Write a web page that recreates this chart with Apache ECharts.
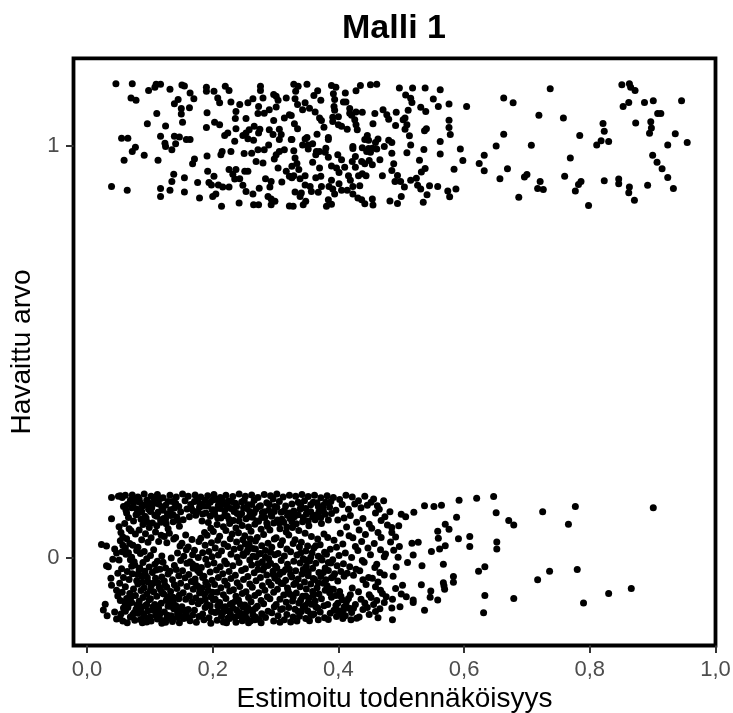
<!DOCTYPE html>
<html><head><meta charset="utf-8">
<style>html,body{margin:0;padding:0;background:#fff}#c{width:733px;height:713px}</style>
<script src="https://cdn.jsdelivr.net/npm/echarts@6/dist/echarts.min.js"></script></head>
<body><div id="c"></div>
<script>
const xTicks=[0,0.2,0.4,0.6,0.8,1];
const yTicks=[0,1];
const observedOne=[
[.046,1.150],[.072,1.150],[.098,1.134],[.108,1.142],[.110,1.149],[.117,1.149],[.132,1.137],[.151,1.147],[.155,1.145],[.164,1.128],[.170,1.114],[.190,1.142],[.190,1.132],[.202,1.132],[.220,1.144],[.226,1.134],[.276,1.144],[.276,1.134],[.297,1.124],
[.070,1.116],[.078,1.110],[.139,1.102],[.145,1.112],[.150,1.090],[.163,1.092],[.150,1.077],[.111,1.078],[.096,1.053],[.125,1.048],[.152,1.057],[.191,1.080],[.190,1.044],[.203,1.057],[.211,1.051],[.208,1.116],[.211,1.104],[.229,1.106],[.243,1.100],[.237,1.083],[.236,1.066],[.253,1.066],[.256,1.104],[.264,1.114],[.280,1.116],[.301,1.120],[.304,1.110],[.317,1.116],[.273,1.095],[.272,1.078],[.282,1.079],[.290,1.087],[.301,1.094],[.314,1.067],[.322,1.075],[.297,1.061],[.055,1.018],[.065,1.018],[.117,1.023],[.139,1.023],[.147,1.021],[.158,1.015],[.164,1.015],[.124,1.006],[.125,.998],[.141,1.005],[.135,.990],[.077,.996],[.072,.986],[.059,.965],[.091,.977],[.113,.965],[.191,.975],[.171,.968],[.168,.956],[.237,1.041],[.224,1.031],[.219,1.025],[.248,1.025],[.253,1.031],[.235,1.011],[.258,1.039],[.266,1.047],[.275,1.040],[.290,1.039],[.306,1.040],[.296,1.027],[.309,1.027],[.306,1.015],[.256,1.017],[.265,1.013],[.273,1.031],[.229,.986],[.215,.986],[.213,.978],[.250,.981],[.262,.982],[.272,.990],[.282,.990],[.289,1.002],[.314,.990],[.306,.986],[.301,.978],[.298,.968],[.269,.962],[.280,.958],[.325,1.015],[.304,.946],[.226,.942],[.237,.942],[.251,.938],[.256,.938],[.232,.931],[.235,.919],[.243,.920],[.248,.904],[.253,.889],[.264,.883],[.274,.897],[.291,.900],[.284,.920],[.293,.913],[.310,.912],[.317,.938],[.322,.926],[.192,.938],[.202,.926],[.194,.911],[.198,.905],[.209,.905],[.216,.900],[.226,.900],[.176,.911],[.138,.931],[.155,.922],[.135,.913],[.117,.896],[.132,.892],[.155,.888],[.117,.877],[.039,.901],[.064,.892],[.179,.873],[.205,.883],[.200,.877],[.214,.853],[.242,.861],[.265,.857],[.273,.857],[.293,.857],[.299,.865],[.288,.877],[.293,.871],[.322,.854],
[.329,1.149],[.350,1.149],[.336,1.144],[.332,1.132],[.367,1.133],[.361,1.122],[.389,1.146],[.396,1.142],[.435,1.146],[.451,1.148],[.461,1.149],[.428,1.133],[.411,1.128],[.392,1.126],[.497,1.140],[.518,1.140],[.538,1.140],[.562,1.136],[.507,1.123],[.515,1.115],[.517,1.105],[.551,1.113],[.663,1.116],[.331,1.114],[.372,1.110],[.394,1.112],[.408,1.106],[.412,1.106],[.335,1.100],[.347,1.104],[.343,1.087],[.354,1.091],[.363,1.082],[.393,1.095],[.394,1.086],[.418,1.090],[.559,1.095],[.576,1.101],[.604,1.095],[.531,1.093],[.539,1.083],[.471,1.087],[.477,1.075],[.480,1.064],[.492,1.081],[.511,1.086],[.458,1.078],[.438,1.081],[.428,1.082],[.418,1.079],[.421,1.074],[.325,1.073],[.506,1.067],[.503,1.063],[.370,1.067],[.373,1.061],[.391,1.069],[.400,1.070],[.391,1.059],[.400,1.051],[.405,1.047],[.414,1.040],[.426,1.063],[.428,1.051],[.430,1.039],[.455,1.053],[.491,1.049],[.509,1.051],[.506,1.040],[.540,1.041],[.537,1.036],[.576,1.062],[.576,1.044],[.578,1.027],[.330,1.053],[.335,1.041],[.377,1.045],[.366,1.028],[.384,1.020],[.384,1.015],[.326,1.015],[.350,1.020],[.347,1.016],[.446,1.025],[.442,1.015],[.448,1.013],[.463,1.016],[.459,1.008],[.480,1.013],[.485,1.008],[.513,1.024],[.515,1.002],[.562,1.010],[.423,.998],[.423,.993],[.438,.995],[.448,.993],[.454,.994],[.445,.986],[.451,.984],[.461,.992],[.473,.998],[.343,1.002],[.352,1.002],[.359,1.005],[.352,.992],[.329,.988],[.485,.982],[.509,.983],[.536,.991],[.562,.980],[.594,.992],[.651,.999],[.632,.977],[.598,.964],[.624,.957],[.632,.939],[.584,.943],[.669,.944],[.657,.920],[.529,.965],[.488,.956],[.485,.940],[.538,.945],[.532,.936],[.494,.928],[.470,.927],[.524,.921],[.515,.916],[.490,.913],[.499,.913],[.505,.900],[.526,.904],[.531,.895],[.545,.903],[.558,.901],[.574,.890],[.587,.895],[.577,.876],[.541,.881],[.500,.877],[.482,.866],[.494,.860],[.535,.863],[.454,.871],[.455,.856],[.442,.859],
[.365,.986],[.370,.986],[.380,.994],[.379,.984],[.364,.978],[.384,.972],[.399,.978],[.405,.966],[.422,.962],[.427,.974],[.437,.962],[.449,.964],[.466,.966],[.454,.954],[.442,.956],[.427,.948],[.438,.932],[.444,.927],[.432,.927],[.410,.948],[.389,.951],[.397,.946],[.401,.935],[.370,.946],[.359,.960],[.331,.970],[.334,.957],[.326,.950],[.337,.942],[.329,.927],[.347,.927],[.339,.920],[.326,.922],[.364,.922],[.372,.926],[.389,.916],[.401,.908],[.416,.927],[.419,.916],[.385,.901],[.391,.895],[.347,.905],[.355,.901],[.357,.889],[.373,.901],[.368,.887],[.394,.883],[.405,.892],[.414,.892],[.423,.901],[.434,.903],[.423,.883],[.431,.873],[.437,.869],[.341,.885],[.331,.888],[.348,.865],[.344,.857],[.328,.853],[.384,.869],[.389,.858],[.381,.853],[.339,.877],
[.737,1.138],[.851,1.148],[.863,1.150],[.865,1.142],[.872,1.134],[.678,1.104],[.862,1.105],[.853,1.095],[.887,1.105],[.901,1.109],[.946,1.109],[.719,1.074],[.758,1.067],[.908,1.078],[.913,1.078],[.821,1.054],[.873,1.055],[.897,1.058],[.898,1.043],[.823,1.035],[.895,1.030],[.663,1.028],[.784,1.025],[.936,1.029],[.955,1.008],[.924,1.002],[.818,1.012],[.830,1.010],[.811,1.002],[.707,1.001],[.769,.970],[.900,.977],[.907,.960],[.915,.944],[.924,.923],[.700,.930],[.696,.924],[.760,.926],[.721,.913],[.786,.913],[.782,.906],[.777,.890],[.823,.915],[.846,.919],[.846,.908],[.863,.900],[.862,.886],[.892,.904],[.933,.896],[.717,.896],[.726,.894],[.687,.875],[.871,.868],[.798,.855]
];
const observedZeroSparse=[
[.472,.139],[.537,.127],[.552,.125],[.564,.128],[.592,.140],[.620,.145],[.647,.149],[.651,.110],[.725,.112],[.777,.125],[.901,.122],[.520,.111],[.588,.099],[.671,.091],[.679,.080],[.766,.082],[.570,.082],[.576,.070],[.558,.065],[.559,.048],[.591,.047],[.609,.052],[.652,.039],[.652,.022],[.609,.028],[.570,.030],[.561,.022],[.548,.016],[.527,.038],[.517,.036],[.496,.078],[.497,.028],[.483,.039],[.488,.019],[.519,.007],[.495,.002],[.567,-.015],[.533,-.019],[.510,-.011],[.492,-.022],[.623,-.032],[.633,-.021],[.736,-.032],[.780,-.028],[.717,-.053],[.583,-.045],[.583,-.059],[.567,-.060],[.568,-.067],[.569,-.076],[.532,-.065],[.502,-.066],[.491,-.074],[.473,-.041],[.487,-.044],[.547,-.080],[.546,-.095],[.558,-.102],[.519,-.102],[.519,-.108],[.500,-.087],[.508,-.094],[.486,-.100],[.485,-.121],[.498,-.118],[.537,-.127],[.633,-.091],[.679,-.098],[.631,-.133],[.790,-.109],[.830,-.086],[.866,-.074],[.486,-.150],[.500,.106],[.507,.100],[.482,.112],[.474,.100],[.478,.080],[.485,.074],[.485,.062],[.491,.051],[.473,.003],[.475,.010],[.468,.050],[.476,-.094],[.470,-.086],[.473,-.108]
];
const observedZeroDense=[
[.023,.033],[.031,.029],[.039,.095],[.039,.147],[.029,-.112],[.026,-.126],[.032,-.140],[.034,-.021],[.031,-.019],[.038,-.049],[.039,-.066],[.044,.022],[.047,.012],[.041,-.003],[.049,-.037],[.047,-.078],[.049,-.092],[.044,-.131],[.047,-.148],
[.050,.150],[.053,.151],[.056,.147],[.051,.076],[.054,.062],[.057,.051],[.053,.042],[.056,.015],[.051,-.005],[.055,-.026],[.058,-.047],[.052,-.061],[.056,-.083],[.053,-.103],[.058,-.121],[.054,-.136],[.057,-.153],[.052,-.146],
[.061,.152],[.064,.130],[.062,.116],[.066,.098],[.060,.084],[.067,.071],[.063,.047],[.068,.035],[.062,.009],[.069,-.004],[.064,-.033],[.067,-.052],[.061,-.070],[.068,-.086],[.063,-.098],[.066,-.112],[.061,-.129],[.069,-.143],[.064,-.157],
[.072,.153],[.076,.141],[.071,.122],[.078,.105],[.074,.090],[.070,.066],[.077,.058],[.073,.031],[.079,.018],[.071,.002],[.076,-.017],[.072,-.038],[.079,-.055],[.074,-.075],[.077,-.091],[.071,-.108],[.078,-.124],[.073,-.137],[.076,-.151],
[.081,.148],[.084,.135],[.088,.126],[.082,.110],[.086,.094],[.089,.081],[.083,.068],[.087,.044],[.081,.026],[.085,.011],[.089,-.011],[.083,-.029],[.087,-.044],[.081,-.063],[.086,-.079],[.089,-.096],[.083,-.105],[.087,-.119],[.081,-.134],[.085,-.149],[.088,-.157],
[.091,.155],[.095,.140],[.098,.118],[.092,.101],[.096,.087],[.099,.074],[.093,.059],[.097,.038],[.091,.016],[.095,-.002],[.099,-.022],[.093,-.041],[.097,-.058],[.091,-.072],[.095,-.088],[.099,-.101],[.093,-.116],[.097,-.128],[.091,-.142],[.095,-.155],
[.102,.150],[.106,.132],[.101,.113],[.108,.104],[.104,.085],[.109,.063],[.102,.049],[.106,.020],[.101,.006],[.108,-.015],[.104,-.035],[.109,-.049],[.102,-.067],[.106,-.082],[.101,-.099],[.108,-.113],[.104,-.126],[.109,-.139],[.102,-.153],
[.112,.154],[.116,.144],[.119,.124],[.113,.111],[.117,.092],[.111,.078],[.118,.055],[.114,.040],[.119,.005],[.112,-.008],[.116,-.027],[.119,-.046],[.113,-.060],[.117,-.077],[.111,-.093],[.118,-.110],[.114,-.122],[.116,-.135],[.112,-.148],[.119,-.158],
[.121,.146],[.125,.128],[.128,.107],[.122,.096],[.126,.083],[.129,.071],[.123,.052],[.127,.037],[.121,-.010],[.125,-.024],[.129,-.039],[.123,-.056],[.127,-.071],[.122,-.087],[.126,-.103],[.129,-.117],[.123,-.131],[.127,-.146],[.125,-.156],
[.132,.152],[.136,.137],[.139,.121],[.133,.103],[.137,.088],[.131,.060],[.138,.046],[.134,.000],[.139,-.018],[.132,-.032],[.136,-.053],[.139,-.065],[.133,-.081],[.137,-.095],[.131,-.107],[.138,-.123],[.134,-.140],[.136,-.154],
[.142,.148],[.146,.125],[.149,.112],[.143,.099],[.147,.077],[.141,.050],[.148,.029],[.144,.012],[.149,-.006],[.142,-.028],[.146,-.043],[.149,-.061],[.143,-.074],[.147,-.090],[.141,-.115],[.148,-.129],[.144,-.144],[.147,-.157],
[.152,.155],[.156,.139],[.159,.119],[.153,.093],[.157,.056],[.151,.036],[.158,.020],[.154,.004],[.159,-.013],[.152,-.031],[.156,-.048],[.159,-.069],[.153,-.084],[.157,-.100],[.151,-.118],[.158,-.133],[.154,-.147],
[.161,.150],[.165,.130],[.169,.114],[.163,.100],[.167,.045],[.161,.027],[.168,.008],[.164,-.009],[.169,-.025],[.162,-.040],[.166,-.057],[.169,-.076],[.163,-.092],[.167,-.106],[.161,-.125],[.168,-.138],[.164,-.152],
[.172,.153],[.176,.141],[.179,.123],[.173,.104],[.178,.040],[.171,.019],[.177,.001],[.174,-.020],[.179,-.036],[.172,-.051],[.176,-.068],[.179,-.085],[.173,-.097],[.177,-.111],[.171,-.127],[.178,-.142],[.174,-.156],
[.181,.148],[.185,.126],[.189,.109],[.183,.090],[.187,.062],[.181,.048],[.188,.031],[.184,.013],[.189,-.003],[.182,-.023],[.186,-.044],[.189,-.059],[.183,-.073],[.187,-.088],[.181,-.104],[.188,-.120],[.184,-.136],[.186,-.150],
[.192,.151],[.196,.135],[.199,.117],[.193,.086],[.197,.072],[.191,.055],[.198,.037],[.194,.016],[.199,.003],[.192,-.016],[.196,-.034],[.199,-.054],[.193,-.079],[.197,-.094],[.191,-.113],[.198,-.130],[.194,-.145],[.197,-.158],
[.202,.154],[.206,.142],[.209,.128],[.203,.106],[.207,.081],[.201,.064],[.208,.043],[.204,.024],[.209,.007],[.202,-.012],[.206,-.029],[.209,-.047],[.203,-.064],[.207,-.083],[.201,-.101],[.208,-.116],[.204,-.132],[.207,-.151],
[.212,.147],[.216,.131],[.219,.115],[.213,.097],[.217,.076],[.211,.053],[.218,.034],[.214,.017],[.219,-.007],[.212,-.021],[.216,-.038],[.219,-.056],[.213,-.072],[.217,-.089],[.211,-.108],[.218,-.124],[.214,-.141],[.217,-.155],
[.221,.152],[.225,.138],[.229,.120],[.223,.102],[.227,.084],[.221,.067],[.228,.047],[.224,.028],[.229,.009],[.222,-.014],[.226,-.033],[.229,-.050],[.223,-.066],[.227,-.080],[.221,-.098],[.228,-.112],[.224,-.128],[.227,-.147],[.222,-.157],
[.232,.149],[.236,.133],[.239,.108],[.233,.091],[.237,.073],[.231,.058],[.238,.039],[.234,.021],[.239,.002],[.232,-.019],[.236,-.042],[.239,-.060],[.233,-.077],[.237,-.093],[.231,-.110],[.238,-.126],[.234,-.143],[.237,-.156],
[.242,.155],[.246,.136],[.249,.122],[.243,.103],[.247,.079],[.241,.061],[.248,.044],[.244,.025],[.249,.006],[.242,-.011],[.246,-.030],[.249,-.052],[.243,-.069],[.247,-.086],[.241,-.102],[.248,-.119],[.244,-.134],[.247,-.152],
[.252,.150],[.256,.129],[.259,.113],[.253,.095],[.257,.075],[.251,.054],[.258,.033],[.254,.014],[.259,-.005],[.252,-.026],[.256,-.045],[.259,-.063],[.253,-.082],[.257,-.096],[.251,-.114],[.258,-.127],[.254,-.146],[.257,-.157],
[.262,.153],[.266,.140],[.269,.119],[.263,.099],[.267,.082],[.261,.065],[.268,.041],[.264,.023],[.269,.003],[.262,-.017],[.266,-.036],[.269,-.055],[.263,-.071],[.267,-.091],[.261,-.106],[.268,-.122],[.264,-.138],[.267,-.150],
[.272,.147],[.276,.127],[.279,.110],[.273,.089],[.277,.070],[.271,.050],[.278,.030],[.274,.010],[.279,-.009],[.272,-.028],[.276,-.047],[.279,-.067],[.273,-.084],[.277,-.103],[.271,-.117],[.278,-.135],[.274,-.149],[.277,-.157],
[.282,.154],[.286,.134],[.289,.116],[.283,.098],[.287,.077],[.281,.057],[.288,.036],[.284,.018],[.289,-.002],[.282,-.022],[.286,-.041],[.289,-.058],[.283,-.078],[.287,-.094],[.281,-.111],[.288,-.129],[.284,-.144],
[.292,.151],[.296,.143],[.299,.125],[.293,.105],[.297,.085],[.291,.068],[.298,.046],[.294,.026],[.299,.008],[.292,-.013],[.296,-.032],[.299,-.049],[.293,-.066],[.297,-.083],[.291,-.099],[.298,-.118],[.294,-.133],[.297,-.153],
[.302,.155],[.306,.137],[.309,.111],[.303,.092],[.307,.071],[.301,.049],[.308,.032],[.304,.011],[.309,-.006],[.302,-.024],[.306,-.040],[.309,-.062],[.303,-.076],[.307,-.100],[.301,-.113],[.308,-.125],[.304,-.140],[.307,-.156],
[.312,.148],[.316,.126],[.319,.104],[.313,.087],[.317,.063],[.311,.042],[.318,.022],[.314,.005],[.319,-.015],[.312,-.034],[.316,-.054],[.319,-.073],[.313,-.090],[.317,-.107],[.311,-.123],[.318,-.137],[.314,-.150],
[.322,.152],[.326,.131],[.329,.114],[.323,.096],[.327,.074],[.321,.056],[.328,.035],[.324,.015],[.329,-.008],[.322,-.027],[.326,-.046],[.329,-.064],[.323,-.088],[.327,-.104],[.321,-.120],[.328,-.143],[.324,-.155],
[.332,.150],[.336,.135],[.339,.118],[.333,.083],[.337,.067],[.331,.044],[.338,.027],[.334,.007],[.339,-.012],[.332,-.031],[.336,-.051],[.339,-.070],[.333,-.085],[.337,-.109],[.331,-.124],[.338,-.141],[.334,-.153],
[.342,.154],[.346,.139],[.349,.107],[.343,.088],[.347,.060],[.341,.038],[.348,.017],[.344,-.002],[.349,-.020],[.342,-.039],[.346,-.058],[.349,-.075],[.343,-.093],[.347,-.115],[.341,-.130],[.348,-.147],
[.352,.149],[.356,.129],[.359,.100],[.353,.078],[.357,.052],[.351,.029],[.358,.012],[.354,-.007],[.359,-.025],[.352,-.043],[.356,-.063],[.359,-.081],[.353,-.097],[.357,-.112],[.351,-.128],[.358,-.139],[.354,-.152],
[.362,.152],[.366,.134],[.369,.112],[.363,.093],[.367,.046],[.361,.024],[.368,.004],[.364,-.013],[.369,-.035],[.362,-.052],[.366,-.072],[.369,-.087],[.363,-.104],[.367,-.121],[.361,-.136],[.368,-.150],
[.372,.146],[.376,.128],[.379,.106],[.373,.084],[.377,.058],[.371,.032],[.378,.014],[.374,-.005],[.379,-.024],[.372,-.045],[.376,-.061],[.379,-.078],[.373,-.099],[.377,-.116],[.371,-.131],[.378,-.145],
[.382,.151],[.386,.123],[.389,.108],[.383,.050],[.387,.021],[.381,.009],[.388,-.012],[.384,-.030],[.389,-.048],[.382,-.067],[.386,-.084],[.389,-.095],[.383,-.113],[.387,-.134],[.384,-.149],
[.392,.147],[.396,.116],[.399,.092],[.393,.043],[.397,.026],[.391,-.004],[.398,-.019],[.394,-.038],[.399,-.056],[.392,-.076],[.396,-.091],[.399,-.110],[.393,-.127],[.397,-.142],
[.402,.142],[.406,.130],[.409,.097],[.403,.060],[.407,.034],[.401,.006],[.408,-.014],[.404,-.033],[.409,-.044],[.402,-.081],[.406,-.101],[.409,-.119],[.403,-.136],[.407,-.147],
[.412,.152],[.416,.118],[.419,.103],[.413,.075],[.417,.054],[.411,.012],[.418,-.021],[.414,-.037],[.413,-.105],[.417,-.122],[.411,-.140],[.419,-.089],
[.422,.148],[.426,.131],[.429,.087],[.423,.049],[.427,.028],[.421,.001],[.428,-.027],[.424,-.042],[.422,-.073],[.427,-.113],[.421,-.132],[.429,-.146],
[.432,.139],[.436,.122],[.439,.096],[.433,.068],[.437,.040],[.431,.018],[.438,-.006],[.434,-.031],[.439,-.053],[.432,-.082],[.436,-.100],[.439,-.125],[.433,-.143],
[.442,.150],[.446,.128],[.449,.082],[.443,.057],[.447,.024],[.441,-.010],[.448,-.047],[.444,-.064],[.449,-.089],[.442,-.109],[.446,-.120],[.449,-.137],
[.452,.135],[.456,.143],[.459,.109],[.453,.072],[.457,.035],[.451,.008],[.458,-.023],[.454,-.049],[.459,-.070],[.452,-.096],[.456,-.113],[.459,-.130],
[.462,.127],[.465,.118],[.468,.091],[.463,.062],[.467,.020],[.461,-.015],[.466,-.035],[.463,-.058],[.467,-.078],[.461,-.103],[.466,-.123],[.463,-.145]
];
const observedZeroClumps=[
[.058,.125],[.063,.109],[.069,.140],[.074,.133],[.079,.119],[.083,.143],[.087,.113],[.091,.128],[.094,.097],[.099,.133],[.103,.122],[.107,.143],[.111,.101],[.114,.131],[.118,.087],[.121,.116],[.125,.094],[.129,.137],[.133,.117],[.137,.105],[.141,.133],[.145,.091],[.057,.031],[.061,.024],[.066,.013],[.071,-.020],[.075,-.009],[.080,-.040],[.084,-.024],[.088,-.059],[.092,-.032],[.096,-.048],[.101,-.078],[.105,-.061],[.110,-.029],[.115,-.071],[.120,-.085],[.124,-.066],[.128,-.094],[.133,-.117],[.137,-.105],[.142,-.125],[.146,-.099],[.060,-.107],[.065,-.120],[.070,-.095],[.075,-.133],[.080,-.114],[.085,-.127],[.090,-.135],[.095,-.113],[.100,-.143],[.105,-.118],[.110,-.130],[.115,-.145],[.120,-.152],[.128,-.139],[.136,-.148],[.144,-.136],[.150,-.142],[.155,-.127],[.160,-.145],
[.166,.120],[.171,.137],[.176,.113],[.180,.131],[.184,.107],[.188,.140],[.192,.126],[.196,.101],[.200,.141],[.204,.117],[.208,.097],[.212,.120],[.215,.140],[.219,.103],[.223,.126],[.226,.094],[.230,.137],[.234,.113],[.238,.125],[.242,.090],[.168,-.015],[.172,-.060],[.176,-.030],[.180,-.079],[.184,-.047],[.188,-.100],[.192,-.067],[.196,-.116],[.200,-.083],[.204,-.100],[.208,-.130],[.212,-.115],[.216,-.132],[.220,-.118],[.224,-.146],[.228,-.135],[.232,-.121],[.236,-.105],[.240,-.140],[.244,-.112],[.248,-.147],[.252,-.134],[.256,-.120],[.260,-.153],[.264,-.127],[.268,-.143],
[.246,.108],[.250,.140],[.254,.120],[.258,.100],[.262,.130],[.266,.110],[.270,.090],[.274,.125],[.278,.098],[.282,.112],[.286,.085],[.290,.130],[.294,.101],[.298,.113],[.302,.123],[.306,.085],[.310,.094],[.314,.115],[.318,.075],[.322,.109],[.326,.088],[.330,.100],[.248,.010],[.252,.034],[.256,.020],[.260,.046],[.264,.004],[.268,.022],[.272,-.014],[.276,.011],[.280,-.029],[.284,.002],[.288,-.018],[.292,.014],[.296,-.040],[.300,-.020],[.304,-.056],[.308,-.035],[.312,-.062],[.316,-.028],[.320,-.080],[.324,-.040],[.328,-.095],[.332,-.060],[.336,-.130],[.340,-.102],[.344,-.118],[.348,-.092],[.352,-.108],[.356,-.136],[.360,-.091],[.364,-.118],
[.336,.105],[.340,.128],[.344,.098],[.348,.120],[.352,.090],[.356,.112],[.360,.135],[.364,.104],[.368,.125],[.372,.098],[.376,.115],[.380,.135],[.384,.092],[.388,.137],[.340,.012],[.344,-.028],[.348,-.005],[.352,-.034],[.356,.002],[.360,-.050],[.364,.030],[.368,-.060],[.372,.000],[.376,-.035],[.380,-.053],[.384,-.011],[.388,-.075],[.392,-.045],[.396,-.115],[.400,-.128],[.404,-.093],[.408,-.126],[.412,-.115],[.416,-.098],[.420,-.150],[.424,-.122]
];
const pointColor='#000000';
const labelColor='#4d4d4d';
const tickColor='#333333';
const fmt=v=>v.toFixed(1).replace('.',',');
const chart=echarts.init(document.getElementById('c'),null,{renderer:'canvas'});
const font='"Liberation Sans", Arial, sans-serif';
chart.setOption({
  animation:false,
  backgroundColor:'#fff',
  title:{text:'Malli 1',left:394,top:12,padding:0,textAlign:'center',textStyle:{fontFamily:font,fontWeight:'bold',fontSize:34,color:'#000'}},
  grid:{left:73.5,right:17.5,top:58.3,bottom:67.5,outerBoundsMode:'none',show:true,borderColor:'#000',borderWidth:3.8,backgroundColor:'#fff'},
  xAxis:{type:'value',min:-0.0215,max:1,name:'Estimoitu todennäköisyys',nameLocation:'middle',nameGap:51,
    nameTextStyle:{fontFamily:font,fontSize:28,color:'#000',verticalAlign:'middle'},
    splitLine:{show:false},axisLine:{show:false,onZero:false},
    axisTick:{show:true,length:7.5,lineStyle:{color:tickColor,width:2},customValues:xTicks},
    axisLabel:{fontFamily:font,fontSize:22,color:labelColor,margin:13,customValues:xTicks,formatter:fmt}},
  yAxis:{type:'value',min:-0.2122,max:1.212,name:'Havaittu arvo',nameLocation:'middle',nameGap:44,
    nameTextStyle:{fontFamily:font,fontSize:28,color:'#000',verticalAlign:'middle'},
    splitLine:{show:false},axisLine:{show:false,onZero:false},
    axisTick:{show:true,length:7.5,lineStyle:{color:tickColor,width:2},customValues:yTicks},
    axisLabel:{fontFamily:font,fontSize:22,color:labelColor,margin:14,customValues:yTicks,formatter:v=>String(v)}},
  series:[observedOne,observedZeroSparse,observedZeroDense,observedZeroClumps].map(d=>({type:'scatter',data:d,symbolSize:7,large:false,itemStyle:{color:pointColor,opacity:1},silent:true}))
});
</script></body></html>
